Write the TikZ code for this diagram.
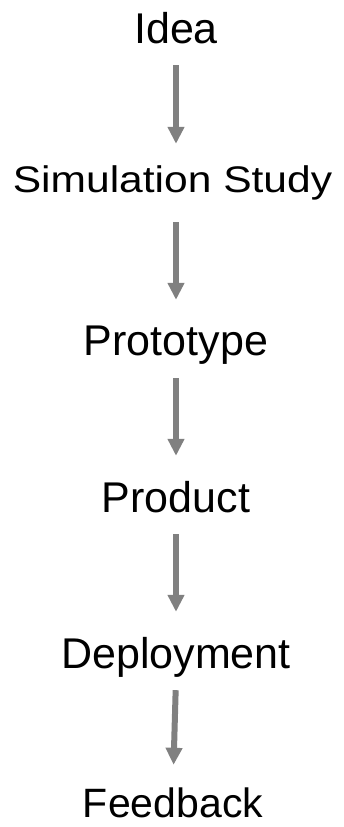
\documentclass[tikz,border=0pt]{standalone}
\usepackage{fontspec}
\setmainfont{Liberation Sans}
\newfontfamily\simfont[FakeStretch=1.15]{Liberation Sans}
\usetikzlibrary{arrows.meta,calc}
\definecolor{arrowgray}{HTML}{808080}

\begin{document}
\begin{tikzpicture}[
      x=1pt, y=1pt,
      >={Triangle[width=16pt,length=17pt]},
      stage/.style={inner sep=0pt, anchor=base, text height=32pt, text depth=10pt,
                    font=\fontsize{43}{50}\selectfont},
      flow/.style ={->, draw=arrowgray, line width=6pt, shorten <=12pt, shorten >=24pt}
    ]
    \useasboundingbox (0,0) rectangle (344,-827);
    % --- stages (baselines measured from the top) ---
    \node[stage] (idea)  at (176,-43)   {Idea};
    \node[stage, font=\simfont\fontsize{37}{44}\selectfont]
                 (sim)   at (172.5,-192) {Simulation Study};
    \node[stage] (proto) at (176,-355)  {Prototype};
    \node[stage] (prod)  at (176,-512)  {Product};
    \node[stage] (depl)  at (176,-668)  {Deployment};
    \node[stage, text depth=1pt, font=\fontsize{41}{48}\selectfont]
                 (feed)  at (173,-817)  {Feedback};
    % --- arrows ---
    \draw[flow, shorten >=16pt] (idea.south) -- (idea.south |- sim.north);
    \draw[flow, shorten <=20pt, shorten >=23pt] (proto.north |- sim.south) -- (proto.north);
    \draw[flow, shorten <=13pt] (proto.south) -- (prod.north);
    \draw[flow] (prod.south) -- (depl.north);
    \draw[flow, shorten >=20pt] (depl.south) -- (feed.north);
\end{tikzpicture}
\end{document}
